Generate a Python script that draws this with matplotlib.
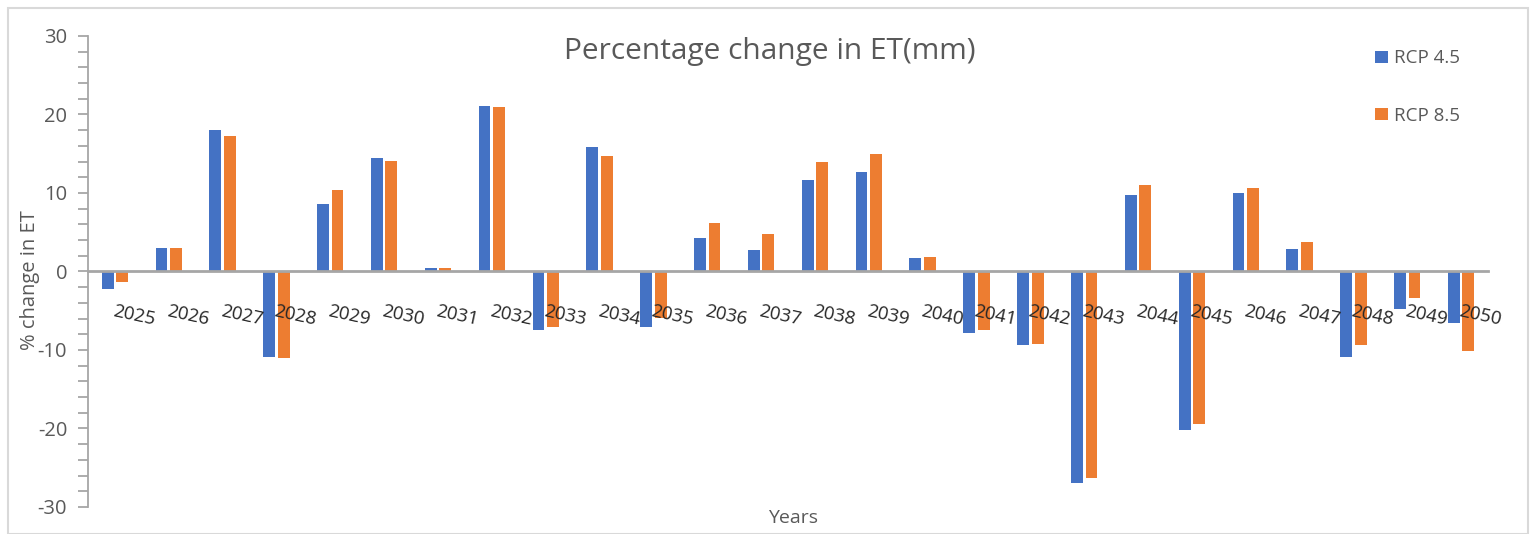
import numpy as np
import matplotlib
matplotlib.use("Agg")
import matplotlib.pyplot as plt
from matplotlib.patches import Rectangle
from matplotlib.ticker import MultipleLocator

plt.rcParams['font.family'] = ['Open Sans', 'DejaVu Sans']
plt.rcParams['axes.unicode_minus'] = False

# percentage change in ET per year, two scenarios
years = [str(y) for y in range(2025, 2051)]
rcp45 = [-2.2, 3.0, 18.0, -10.9, 8.6, 14.4, 0.4, 21.1, -7.5, 15.8,
         -7.1, 4.3, 2.7, 11.6, 12.7, 1.75, -7.8, -9.4, -26.9, 9.8,
         -20.2, 10.0, 2.9, -10.9, -4.8, -6.5]
rcp85 = [-1.3, 3.0, 17.3, -11.0, 10.4, 14.1, 0.4, 20.9, -7.1, 14.7,
         -5.9, 6.2, 4.8, 13.9, 15.0, 1.9, -7.5, -9.2, -26.3, 11.0,
         -19.4, 10.7, 3.7, -9.4, -3.4, -10.1]

blue = '#4472C4'
orange = '#ED7D31'
grey_txt = '#595959'
axis_col = '#a6a6a6'

W, H = 1536, 534
fig = plt.figure(figsize=(W / 100, H / 100), dpi=100)
ax = fig.add_axes([88 / W, 1 - 507 / H, 1400 / W, 471 / H])

x = np.arange(len(years))
bw = 0.22
ax.bar(x - 0.135, rcp45, bw, color=blue, label='RCP 4.5', zorder=2)
ax.bar(x + 0.135, rcp85, bw, color=orange, label='RCP 8.5', zorder=2)

ax.set_xlim(-0.5, len(years) - 0.5)
ax.set_ylim(-30, 30)

# axes: vertical axis on the left, category axis through zero
for s in ['top', 'right']:
    ax.spines[s].set_visible(False)
ax.spines['left'].set_color(axis_col)
ax.spines['left'].set_linewidth(1.3)
ax.spines['bottom'].set_position(('data', 0))
ax.spines['bottom'].set_color(axis_col)
ax.spines['bottom'].set_linewidth(2)
ax.spines['bottom'].set_zorder(3)

ax.yaxis.set_major_locator(MultipleLocator(10))
ax.yaxis.set_minor_locator(MultipleLocator(2))
ax.tick_params(axis='y', which='both', direction='out', length=7, width=1.3,
               color=axis_col, labelsize=14.5, labelcolor=grey_txt, pad=8)

ax.set_xticks(x)
ax.set_xticklabels(years, rotation=-12, ha='left', va='top',
                   rotation_mode='anchor', fontsize=13.5, color='#262626')
ax.tick_params(axis='x', length=0, pad=22)
# year labels sit on top of the negative bars
ax.xaxis.set_zorder(4)

fig.text(770 / W, 1 - 51 / H, 'Percentage change in ET(mm)', ha='center',
         va='center', fontsize=21.5, color=grey_txt)
fig.text(30 / W, 1 - 280 / H, '% change in ET', ha='center', va='center',
         rotation=90, fontsize=14.5, color=grey_txt)
fig.text(793 / W, 1 - 518 / H, 'Years', ha='center', va='center',
         fontsize=14, color=grey_txt)

fig.legend(loc='upper left', bbox_to_anchor=(1366 / W, 1 - 40 / H),
           frameon=False, fontsize=13.5, labelcolor=grey_txt,
           handlelength=0.65, handleheight=0.65, handletextpad=0.35,
           labelspacing=2.1, borderpad=0)

# light frame round the chart area
fig.add_artist(Rectangle((8 / W, 0), 1520 / W, 1 - 8 / H,
                         transform=fig.transFigure, fill=False,
                         edgecolor='#d9d9d9', linewidth=1.5))

fig.savefig('out.png', dpi=100)
